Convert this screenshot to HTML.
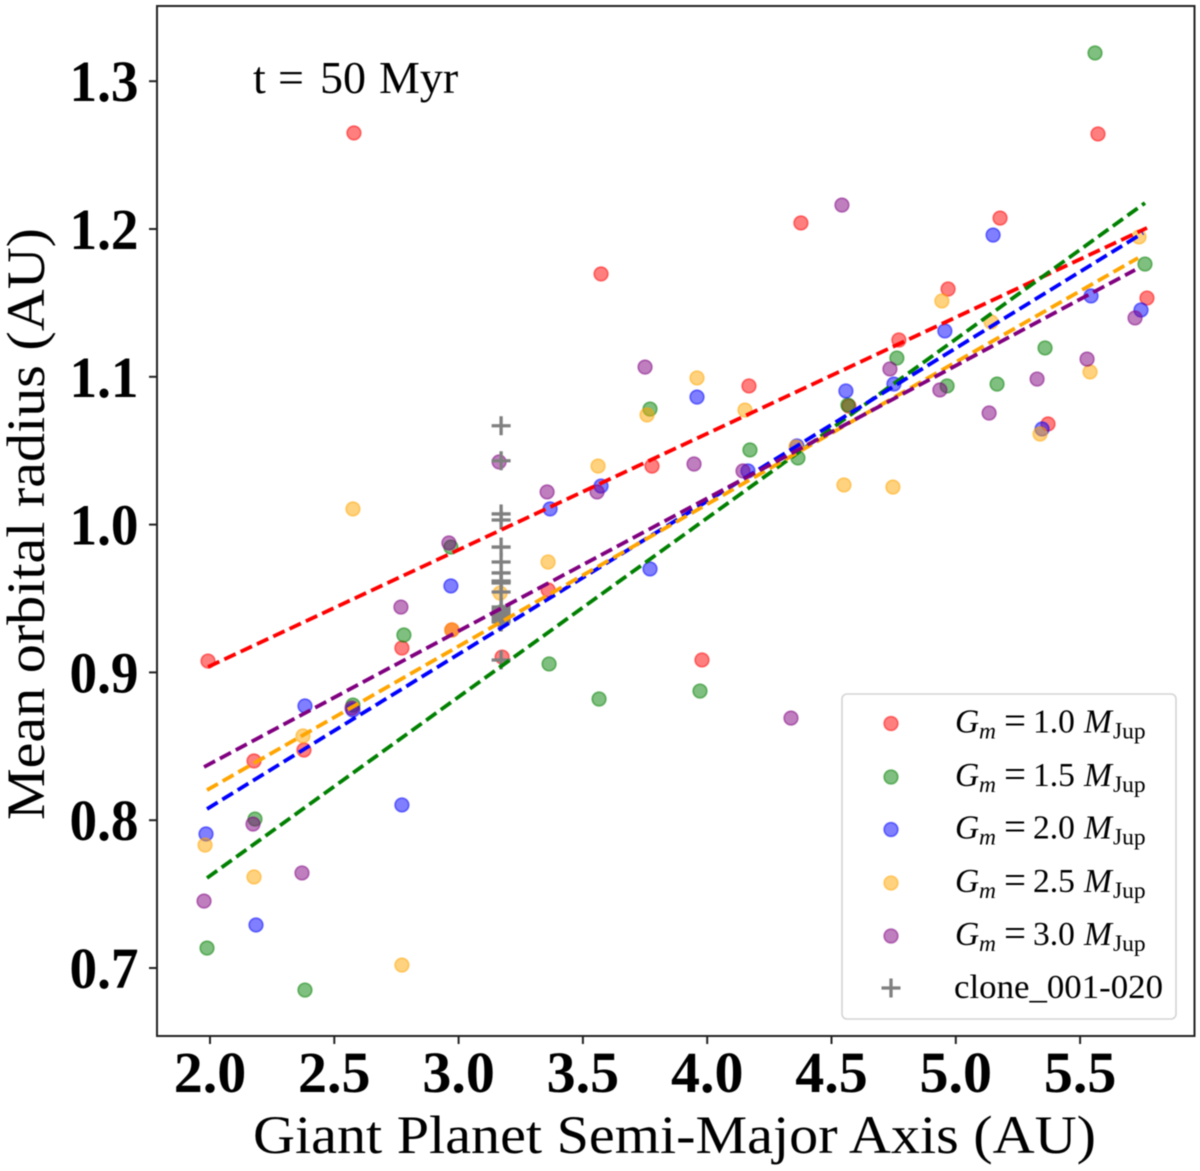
<!DOCTYPE html>
<html lang="en">
<head>
<meta charset="utf-8">
<title>Mean orbital radius vs giant planet semi-major axis</title>
<style>
html,body{margin:0;padding:0;background:#fff;}
svg{display:block;filter:blur(0.4px);}
text{font-family:"Liberation Serif","Times New Roman",serif;fill:#000;}
.tick{font-weight:bold;font-size:58px;}
.title{font-size:54px;}
.leg{font-size:33.5px;}
.eq{font-size:39px;}
.sub{font-size:23.5px;}
.note{font-size:46px;}
</style>
</head>
<body>
<svg id="chart" xmlns="http://www.w3.org/2000/svg" width="1200" height="1171" viewBox="0 0 1200 1171">
  <rect x="0" y="0" width="1200" height="1171" fill="#fff"></rect>
  <g id="points"></g>
  <g id="clones"></g>
  <g id="fits"></g>
  <rect x="157" y="6" width="1037.5" height="1030" fill="none" stroke="#222" stroke-width="2"></rect>
  <g id="ticks"></g>
  <text class="note" y="93"><tspan x="253">t</tspan> <tspan x="278">=</tspan> <tspan x="320">50</tspan> <tspan x="379">Myr</tspan></text>
  <text class="title" x="253" y="1153" textLength="843" lengthAdjust="spacingAndGlyphs">Giant Planet Semi-Major Axis (AU)</text>
  <text class="title" transform="translate(44,820) rotate(-90)" x="0" y="0" textLength="592" lengthAdjust="spacingAndGlyphs">Mean orbital radius (AU)</text>
  <g id="legend">
    <rect x="842" y="694" width="334" height="325" rx="5" ry="5" fill="#fff" fill-opacity="0.85" stroke="#d4d4d4" stroke-width="1.6"></rect>
  </g>
</svg>
<script>
const xTicks = [2.0, 2.5, 3.0, 3.5, 4.0, 4.5, 5.0, 5.5];
const yTicks = [0.7, 0.8, 0.9, 1.0, 1.1, 1.2, 1.3];
const seriesNames = ['1.0', '1.5', '2.0', '2.5', '3.0'];
const seriesColors = ['#ff0000', '#008000', '#0000ff', '#ffa500', '#800080'];

const redX = [1.992,2.177,2.378,2.579,2.772,2.973,3.175,3.360,3.573,3.778,3.979,4.168,4.377,4.570,4.771,4.969,5.178,5.371,5.572,5.769];
const redY = [0.9077,0.8401,0.8475,1.2650,0.9165,0.9287,0.9104,0.9558,1.1696,1.0396,0.9084,1.0938,1.2041,1.0802,1.1249,1.1594,1.2074,1.0681,1.2643,1.1533];
const greenX = [1.988,2.181,2.382,2.575,2.780,2.969,3.171,3.364,3.565,3.770,3.971,4.172,4.365,4.566,4.763,4.965,5.166,5.359,5.560,5.761];
const greenY = [0.7135,0.8008,0.6851,0.8779,0.9253,0.9848,0.9409,0.9057,0.8820,1.0782,0.8874,1.0505,1.0451,1.0809,1.1127,1.0938,1.0951,1.1195,1.3191,1.1763];
const blueX = [1.984,2.185,2.382,2.575,2.772,2.969,3.171,3.368,3.573,3.770,3.959,4.164,4.361,4.558,4.751,4.956,5.150,5.347,5.544,5.745];
const blueY = [0.7907,0.7291,0.8773,0.8746,0.8103,0.9585,0.9355,1.0106,1.0261,0.9700,1.0863,1.0363,1.0532,1.0904,1.0951,1.1310,1.1959,1.0647,1.1547,1.1452];
const orangeX = [1.980,2.177,2.374,2.575,2.772,2.973,3.167,3.360,3.561,3.758,3.959,4.152,4.357,4.550,4.747,4.944,5.142,5.339,5.540,5.737];
const orangeY = [0.7832,0.7616,0.8570,1.0106,0.7020,0.9287,0.9537,0.9747,1.0396,1.0742,1.0992,1.0775,1.0525,1.0268,1.0254,1.1513,1.1371,1.0613,1.1033,1.1946];
const purpleX = [1.976,2.173,2.370,2.571,2.768,2.961,3.163,3.356,3.557,3.750,3.947,4.144,4.337,4.542,4.735,4.936,5.134,5.327,5.528,5.721];
const purpleY = [0.7453,0.7974,0.7643,0.8759,0.9442,0.9876,1.0424,1.0221,1.0221,1.1066,1.0410,1.0363,0.8691,1.2162,1.1053,1.0911,1.0755,1.0985,1.1120,1.1398];

const cloneX = [3.171,3.171,3.171,3.171,3.171,3.171,3.171,3.171,3.171,3.171,3.171,3.171,3.171,3.171,3.171,3.171,3.171,3.171,3.171,3.171];
const cloneY = [1.0669,1.0432,1.0072,1.0031,0.9848,0.9747,0.9673,0.9618,0.9615,0.9612,0.9605,0.9544,0.9442,0.9422,0.9409,0.9389,0.9375,0.9355,0.9341,0.9084];

const fitX = [[1.992,5.769],[1.988,5.761],[1.988,5.753],[1.988,5.733],[1.976,5.721]];
const fitY = [[0.9037,1.2007],[0.7609,1.2176],[0.8076,1.1973],[0.8204,1.1804],[0.8360,1.1723]];

const NS = 'http://www.w3.org/2000/svg';
function xPos(v){ return 210 + (v - 2.0) * 248.6; }
function yPos(v){ return 968 - (v - 0.7) * 1478; }
function make(tag, parent, attrs, text){
  const el = document.createElementNS(NS, tag);
  for (const k in attrs) el.setAttribute(k, attrs[k]);
  if (text !== undefined) el.textContent = text;
  parent.appendChild(el);
  return el;
}
function plusMark(parent, cx, cy, half, width){
  const g = make('g', parent, {});
  make('line', g, {x1:cx-half, x2:cx+half, y1:cy, y2:cy, stroke:'#808080', 'stroke-width':width});
  make('line', g, {x1:cx, x2:cx, y1:cy-half, y2:cy+half, stroke:'#808080', 'stroke-width':width});
  return g;
}

const ticksG = document.getElementById('ticks');
xTicks.forEach(function(t){
  const px = xPos(t);
  const mark = make('line', ticksG, {x1:px, x2:px, y1:1036, y2:1044, stroke:'#222', 'stroke-width':2});
  
  
  const label = make('text', ticksG, {class:'tick', x:px, y:1092, 'text-anchor':'middle'}, t.toFixed(1));
  
  
});
yTicks.forEach(function(t){
  const py = yPos(t);
  const mark = make('line', ticksG, {x1:149, x2:157, y1:py, y2:py, stroke:'#222', 'stroke-width':2});
  
  
  const label = make('text', ticksG, {class:'tick', x:69.5, y:py+20, textLength:69, lengthAdjust:'spacingAndGlyphs'}, t.toFixed(1));
  
  
});

const allX = [redX, greenX, blueX, orangeX, purpleX];
const allY = [redY, greenY, blueY, orangeY, purpleY];
const pointsG = document.getElementById('points');
allX.forEach(function(xs, s){
  xs.forEach(function(x, i){
    const c = make('circle', pointsG, {cx:xPos(x), cy:yPos(allY[s][i]), r:6.9, fill:seriesColors[s], 'fill-opacity':0.5, stroke:seriesColors[s], 'stroke-opacity':0.5, 'stroke-width':1.6});
    
    
  });
});

const clonesG = document.getElementById('clones');
cloneX.forEach(function(x, i){
  const g = plusMark(clonesG, xPos(x), yPos(cloneY[i]), 9.5, 3.3);
  
  
});

const fitsG = document.getElementById('fits');
fitX.forEach(function(xs, s){
  const l = make('line', fitsG, {x1:xPos(xs[0]), x2:xPos(xs[1]), y1:yPos(fitY[s][0]), y2:yPos(fitY[s][1]), stroke:seriesColors[s], 'stroke-width':3.8, 'stroke-dasharray':'12.5 5.5'});
  
  
});

const legendG = document.getElementById('legend');
const legendRows = [723.5, 777, 829.5, 883, 936];
seriesNames.forEach(function(name, s){
  const cy = legendRows[s];
  const dot = make('circle', legendG, {cx:891, cy:cy, r:6.9, fill:seriesColors[s], 'fill-opacity':0.5, stroke:seriesColors[s], 'stroke-opacity':0.5, 'stroke-width':1.6});
  
  
  const base = cy + 9;
  const entry = make('g', legendG, {});
  
  
  make('text', entry, {class:'leg', x:955, y:base, 'font-style':'italic'}, 'G');
  make('text', entry, {class:'sub', x:979, y:base+6, 'font-style':'italic'}, 'm');
  make('text', entry, {class:'eq', x:1004, y:base+1}, '=');
  make('text', entry, {class:'leg', x:1033, y:base}, name);
  make('text', entry, {class:'leg', x:1084, y:base, 'font-style':'italic'}, 'M');
  make('text', entry, {class:'sub', x:1113, y:base+6}, 'Jup');
});
const cloneLegend = plusMark(legendG, 891, 988, 9.5, 3.3);


const cloneText = make('text', legendG, {class:'leg', x:954, y:998, textLength:209, lengthAdjust:'spacingAndGlyphs'}, 'clone_001-020');


</script>
</body>
</html>
